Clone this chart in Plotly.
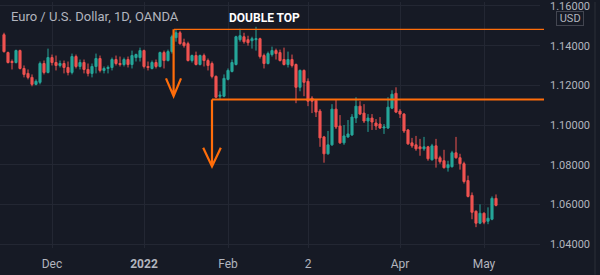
import pandas as pd
import plotly.graph_objects as go

# ---- data (EUR/USD daily) ----
dates = [d.strftime("%Y-%m-%d") for d in pd.bdate_range("2021-11-15", "2022-05-05")]

open_ = [1.1455, 1.1365, 1.1320, 1.1315, 1.1375, 1.1285, 1.1260, 1.1240, 1.1205, 1.1215,
         1.1310, 1.1265, 1.1340, 1.1315, 1.1300, 1.1310, 1.1290, 1.1265, 1.1345, 1.1295,
         1.1315, 1.1280, 1.1260, 1.1295, 1.1335, 1.1275, 1.1285, 1.1290, 1.1330, 1.1310,
         1.1305, 1.1330, 1.1305, 1.1340, 1.1340, 1.1375, 1.1295, 1.1285, 1.1315, 1.1295,
         1.1365, 1.1325, 1.1370, 1.1440, 1.1465, 1.1415, 1.1410, 1.1325, 1.1350, 1.1305,
         1.1350, 1.1325, 1.1310, 1.1245, 1.1145, 1.1145, 1.1230, 1.1270, 1.1305, 1.1430,
         1.1445, 1.1430, 1.1425, 1.1430, 1.1435, 1.1350, 1.1310, 1.1355, 1.1375, 1.1365,
         1.1330, 1.1305, 1.1330, 1.1305, 1.1190, 1.1275, 1.1220, 1.1135, 1.1125, 1.1070,
         1.0940, 1.0855, 1.0900, 1.1080, 1.0995, 1.0910, 1.0940, 1.0950, 1.1035, 1.1095,
         1.1060, 1.1020, 1.1035, 1.1010, 1.1005, 1.0985, 1.0985, 1.1085, 1.1160, 1.1070,
         1.1055, 1.0975, 1.0910, 1.0900, 1.0890, 1.0880, 1.0890, 1.0825, 1.0895, 1.0835,
         1.0820, 1.0785, 1.0790, 1.0860, 1.0835, 1.0805, 1.0720, 1.0645, 1.0565, 1.0505,
         1.0555, 1.0515, 1.0525, 1.0630]
high = [1.1465, 1.1370, 1.1330, 1.1380, 1.1380, 1.1300, 1.1280, 1.1255, 1.1230, 1.1320,
        1.1325, 1.1385, 1.1355, 1.1350, 1.1325, 1.1325, 1.1320, 1.1360, 1.1355, 1.1330,
        1.1330, 1.1310, 1.1310, 1.1360, 1.1350, 1.1295, 1.1300, 1.1340, 1.1350, 1.1345,
        1.1340, 1.1345, 1.1375, 1.1360, 1.1390, 1.1380, 1.1320, 1.1325, 1.1330, 1.1370,
        1.1375, 1.1380, 1.1455, 1.1480, 1.1475, 1.1435, 1.1420, 1.1355, 1.1370, 1.1355,
        1.1360, 1.1335, 1.1320, 1.1250, 1.1170, 1.1255, 1.1285, 1.1330, 1.1450, 1.1485,
        1.1465, 1.1450, 1.1445, 1.1495, 1.1440, 1.1360, 1.1370, 1.1395, 1.1385, 1.1380,
        1.1390, 1.1370, 1.1355, 1.1310, 1.1280, 1.1280, 1.1235, 1.1145, 1.1130, 1.1080,
        1.0945, 1.0970, 1.1105, 1.1130, 1.1050, 1.1000, 1.1025, 1.1055, 1.1140, 1.1120,
        1.1105, 1.1055, 1.1055, 1.1030, 1.1040, 1.1005, 1.1140, 1.1175, 1.1190, 1.1080,
        1.1060, 1.0980, 1.0935, 1.0945, 1.0930, 1.0940, 1.0895, 1.0905, 1.0930, 1.0845,
        1.0875, 1.0820, 1.0870, 1.0940, 1.0855, 1.0815, 1.0745, 1.0660, 1.0570, 1.0600,
        1.0560, 1.0585, 1.0640, 1.0650]
low = [1.1365, 1.1310, 1.1280, 1.1310, 1.1280, 1.1240, 1.1230, 1.1195, 1.1200, 1.1205,
       1.1255, 1.1260, 1.1300, 1.1275, 1.1290, 1.1260, 1.1250, 1.1255, 1.1285, 1.1280,
       1.1260, 1.1245, 1.1240, 1.1260, 1.1265, 1.1260, 1.1260, 1.1275, 1.1300, 1.1295,
       1.1295, 1.1290, 1.1285, 1.1320, 1.1320, 1.1285, 1.1275, 1.1280, 1.1285, 1.1290,
       1.1285, 1.1320, 1.1360, 1.1420, 1.1405, 1.1390, 1.1320, 1.1315, 1.1300, 1.1300,
       1.1295, 1.1275, 1.1235, 1.1135, 1.1130, 1.1140, 1.1225, 1.1265, 1.1300, 1.1420,
       1.1410, 1.1400, 1.1385, 1.1375, 1.1335, 1.1285, 1.1305, 1.1345, 1.1330, 1.1320,
       1.1300, 1.1290, 1.1290, 1.1110, 1.1170, 1.1145, 1.1095, 1.1060, 1.1040, 1.0890,
       1.0810, 1.0850, 1.0895, 1.0980, 1.0905, 1.0900, 1.0935, 1.0945, 1.1010, 1.1050,
       1.1010, 1.0965, 1.0975, 1.0975, 1.0980, 1.0955, 1.0980, 1.1080, 1.1060, 1.1035,
       1.0960, 1.0900, 1.0885, 1.0870, 1.0845, 1.0870, 1.0820, 1.0820, 1.0785, 1.0805,
       1.0780, 1.0765, 1.0785, 1.0830, 1.0775, 1.0705, 1.0635, 1.0525, 1.0485, 1.0500,
       1.0500, 1.0500, 1.0520, 1.0590]
close = [1.1370, 1.1315, 1.1315, 1.1375, 1.1285, 1.1255, 1.1240, 1.1205, 1.1220, 1.1310,
         1.1265, 1.1340, 1.1315, 1.1300, 1.1310, 1.1290, 1.1265, 1.1345, 1.1295, 1.1315,
         1.1280, 1.1260, 1.1295, 1.1335, 1.1275, 1.1285, 1.1290, 1.1330, 1.1310, 1.1305,
         1.1330, 1.1305, 1.1350, 1.1355, 1.1375, 1.1295, 1.1290, 1.1315, 1.1295, 1.1365,
         1.1325, 1.1370, 1.1445, 1.1465, 1.1410, 1.1400, 1.1325, 1.1350, 1.1305, 1.1350,
         1.1325, 1.1300, 1.1245, 1.1140, 1.1150, 1.1235, 1.1275, 1.1315, 1.1445, 1.1450,
         1.1420, 1.1415, 1.1435, 1.1435, 1.1345, 1.1310, 1.1360, 1.1375, 1.1360, 1.1325,
         1.1305, 1.1330, 1.1300, 1.1190, 1.1275, 1.1215, 1.1120, 1.1120, 1.1065, 1.0935,
         1.0855, 1.0900, 1.1080, 1.0990, 1.0910, 1.0945, 1.0955, 1.1040, 1.1095, 1.1055,
         1.1020, 1.1035, 1.1015, 1.0995, 1.0985, 1.0990, 1.1090, 1.1155, 1.1065, 1.1055,
         1.0970, 1.0905, 1.0895, 1.0880, 1.0880, 1.0890, 1.0830, 1.0895, 1.0830, 1.0815,
         1.0785, 1.0800, 1.0860, 1.0835, 1.0805, 1.0715, 1.0640, 1.0560, 1.0505, 1.0555,
         1.0510, 1.0530, 1.0630, 1.0595]

x_tick_dates = ["2021-12-01", "2022-01-03", "2022-02-01", "2022-03-01", "2022-04-01", "2022-05-02"]
x_tick_labels = ["Dec", "<b>2022</b>", "Feb", "2", "Apr", "May"]
y_ticks = [1.04, 1.06, 1.08, 1.10, 1.12, 1.14, 1.16]

top_level = 1.14825      # double-top resistance
neck_level = 1.11285     # neckline

BG = "#161a25"
GRID = "#232733"
TXT = "#b2b5be"
ORANGE = "#ff6d0a"

fig = go.Figure(go.Candlestick(
    x=dates, open=open_, high=high, low=low, close=close,
    increasing=dict(line=dict(color="#26a69a", width=1), fillcolor="#26a69a"),
    decreasing=dict(line=dict(color="#ef5350", width=1), fillcolor="#ef5350"),
    whiskerwidth=0, showlegend=False, hoverinfo="skip",
))

fig.update_layout(
    width=600, height=275,
    margin=dict(l=0, r=60, t=0, b=27),
    paper_bgcolor=BG, plot_bgcolor=BG,
    font=dict(family="Roboto", color=TXT, size=12),
    xaxis=dict(type="category", range=[-1, 134], rangeslider=dict(visible=False),
               tickmode="array", tickvals=x_tick_dates, ticktext=x_tick_labels,
               showgrid=True, gridcolor=GRID, gridwidth=1, zeroline=False, showline=False,
               ticks="", tickfont=dict(size=12, color=TXT), ticklabelstandoff=7),
    yaxis=dict(side="right", range=[1.038, 1.162], tickmode="array", tickvals=y_ticks,
               tickformat=".5f", showgrid=True, gridcolor=GRID, gridwidth=1,
               zeroline=False, showline=False, ticks="", ticklabeloverflow="allow",
               tickfont=dict(size=11, color=TXT), ticklabelstandoff=9),
    boxgap=0.25,
)

shapes = [
    # right border
    dict(type="line", xref="paper", yref="paper", x0=595/540, x1=595/540, y0=-27/248, y1=1.0,
         line=dict(color="#2a2e39", width=1)),
    # top (resistance) line
    dict(type="line", xref="paper", yref="y", x0=174/540, x1=544/540, y0=top_level, y1=top_level,
         line=dict(color=ORANGE, width=1.3)),
    # neckline
    dict(type="line", xref="paper", yref="y", x0=212/540, x1=544/540, y0=neck_level, y1=neck_level,
         line=dict(color=ORANGE, width=1.8)),
    # arrow 1
    dict(type="path", xref="x", yref="y",
         path=f"M 42.4,{top_level} L 42.4,1.1145 M 40.5,1.1235 L 42.4,1.1145 L 44.25,1.1235",
         line=dict(color=ORANGE, width=2.2)),
    # arrow 2
    dict(type="path", xref="x", yref="y",
         path=f"M 52,{neck_level} L 52,1.07915 M 49.8,1.0885 L 52,1.07915 L 54.2,1.0885",
         line=dict(color=ORANGE, width=2.2)),
]
fig.update_layout(shapes=shapes)

fig.add_annotation(text="Euro / U.S. Dollar, 1D, OANDA", xref="paper", yref="paper",
                   x=9/540, y=1-15/248, xanchor="left", yanchor="middle", showarrow=False,
                   font=dict(size=13, color=TXT, family="Roboto"))
fig.add_annotation(text="<b>DOUBLE TOP</b>", xref="paper", yref="paper",
                   x=264/540, y=1-16/248, xanchor="center", yanchor="middle", showarrow=False,
                   font=dict(size=12, color="#ffffff", family="Roboto"))
fig.add_annotation(text="&nbsp;USD&nbsp;", xref="paper", yref="paper",
                   x=569.5/540, y=1-17/248, xanchor="center", yanchor="middle", showarrow=False,
                   font=dict(size=11, color=TXT, family="Roboto"),
                   bgcolor=BG, bordercolor="#434651", borderwidth=1, borderpad=0)

fig.write_html("out.html")
